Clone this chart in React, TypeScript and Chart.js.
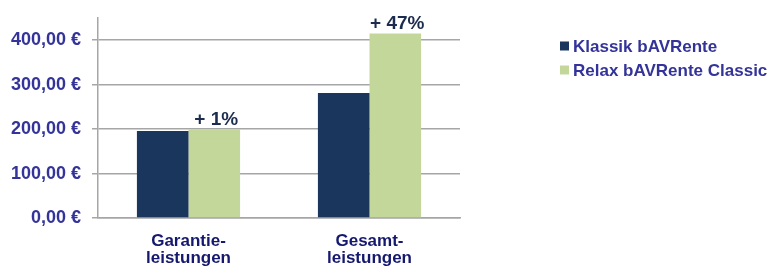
import React, { useEffect, useRef } from "react";
import { Chart, registerables } from "chart.js";

Chart.register(...registerables);

const categories: string[][] = [["Garantie-", "leistungen"], ["Gesamt-", "leistungen"]];
const seriesNames: string[] = ["Klassik bAVRente", "Relax bAVRente Classic"];
const klassikValues: number[] = [196, 281];
const relaxValues: number[] = [199, 415];
const increaseLabels: string[] = ["+ 1%", "+ 47%"];
const yTickValues: number[] = [0, 100, 200, 300, 400];

const FONT = "'Liberation Sans', Arial, sans-serif";
const DARK = "#1b365d";
const LIGHT = "#c4d79b";
const TICK_COLOR = "#33339a";
const XLABEL_COLOR = "#14186e";
const NOTE_COLOR = "#1c2c4e";
const GRID = "#a6a6a6";

const fmtEuro = (v: number) =>
  v.toFixed(2).replace(".", ",") + " €";

const increasePlugin = {
  id: "increaseLabels",
  afterDatasetsDraw(chart: any) {
    const meta = chart.getDatasetMeta(1);
    const ctx = chart.ctx;
    ctx.save();
    ctx.font = `bold 19px ${FONT}`;
    ctx.fillStyle = NOTE_COLOR;
    ctx.textAlign = "center";
    ctx.textBaseline = "alphabetic";
    meta.data.forEach((bar: any, i: number) => {
      ctx.fillText(increaseLabels[i], bar.x + 2, bar.y - 5);
    });
    ctx.restore();
  },
};

const legendPlugin = {
  id: "sideLegend",
  afterDraw(chart: any) {
    const ctx = chart.ctx;
    const x0 = chart.chartArea.right + 100;
    const y0 = 46;
    const gap = 24;
    ctx.save();
    ctx.font = `bold 17px ${FONT}`;
    ctx.textBaseline = "middle";
    ctx.textAlign = "left";
    chart.data.datasets.forEach((ds: any, i: number) => {
      const y = y0 + i * gap;
      ctx.fillStyle = ds.backgroundColor;
      ctx.fillRect(x0, y - 4.5, 9, 9);
      ctx.fillStyle = TICK_COLOR;
      ctx.fillText(ds.label, x0 + 13, y + 1);
    });
    ctx.restore();
  },
};

export default function App() {
  const ref = useRef<HTMLCanvasElement | null>(null);

  useEffect(() => {
    document.body.style.margin = "0";
    const canvas = ref.current;
    if (!canvas) return;
    const chart = new Chart(canvas, {
      type: "bar",
      data: {
        labels: categories,
        datasets: [
          {
            label: seriesNames[0],
            data: klassikValues,
            backgroundColor: DARK,
            barPercentage: 1,
            categoryPercentage: 0.57,
          },
          {
            label: seriesNames[1],
            data: relaxValues,
            backgroundColor: LIGHT,
            barPercentage: 1,
            categoryPercentage: 0.57,
          },
        ],
      },
      options: {
        animation: false,
        responsive: false,
        maintainAspectRatio: false,
        layout: { padding: { top: 18, right: 311, left: 0, bottom: 0 } },
        plugins: {
          legend: { display: false },
          tooltip: { enabled: false },
        },
        scales: {
          x: {
            grid: { display: false },
            border: { display: true, color: GRID, width: 1.5 },
            ticks: {
              color: XLABEL_COLOR,
              font: { family: FONT, size: 17, weight: "bold", lineHeight: 1.0 },
              padding: 7,
              maxRotation: 0,
              autoSkip: false,
            },
            afterFit: (scale: any) => {
              scale.height = 50;
              scale.paddingLeft = 0;
              scale.paddingRight = 0;
            },
          },
          y: {
            min: 0,
            max: 450,
            afterBuildTicks: (scale: any) => {
              scale.ticks = yTickValues.map((v) => ({ value: v }));
            },
            grid: {
              color: GRID,
              lineWidth: 1.5,
              drawTicks: true,
              tickLength: 6,
            },
            border: { display: true, color: GRID, width: 1.5 },
            ticks: {
              color: TICK_COLOR,
              font: { family: FONT, size: 18, weight: "bold" },
              padding: 11,
              callback: (v: any) => fmtEuro(Number(v)),
            },
            afterFit: (scale: any) => {
              scale.width = 98;
              scale.paddingTop = 0;
              scale.paddingBottom = 0;
            },
          },
        },
      },
      plugins: [increasePlugin, legendPlugin],
    } as any);
    return () => chart.destroy();
  }, []);

  return (
    <div style={{ width: 771, height: 268 }}>
      <canvas ref={ref} width={771} height={268} style={{ display: "block" }} />
    </div>
  );
}
